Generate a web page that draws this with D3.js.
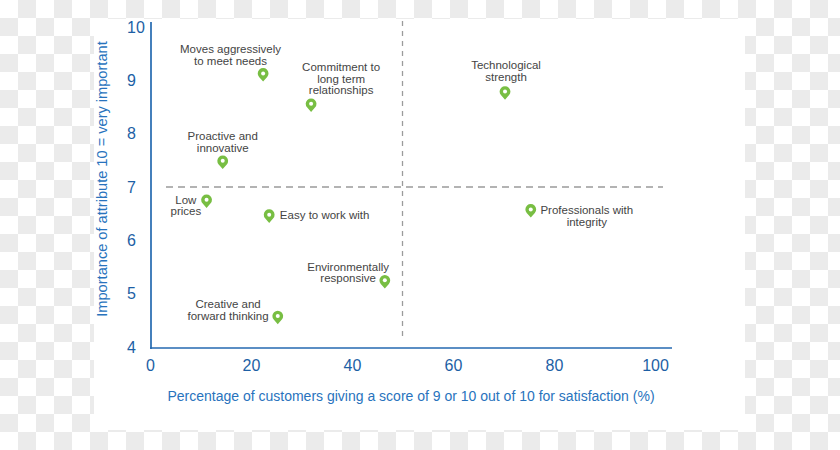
<!DOCTYPE html>
<html><head><meta charset="utf-8">
<script src="https://cdn.jsdelivr.net/npm/d3@7"></script>
<style>html,body{margin:0;padding:0;background:#fff;} svg{display:block;}</style>
</head><body>
<svg id="chart" width="840" height="450"></svg>
<script>
// ---- data ----
const categories = [
  "Moves aggressively to meet needs",
  "Commitment to long term relationships",
  "Technological strength",
  "Proactive and innovative",
  "Low prices",
  "Easy to work with",
  "Professionals with integrity",
  "Environmentally responsive",
  "Creative and forward thinking"
];
const satisfaction = [22.4, 31.9, 70.3, 14.4, 11.2, 23.6, 75.4, 46.5, 25.3];
const importance   = [9.13, 8.56, 8.79, 7.49, 6.76, 6.48, 6.58, 5.25, 4.58];
const xTicks = [0, 20, 40, 60, 80, 100];
const yTicks = [4, 5, 6, 7, 8, 9, 10];
const xDivider = 50;
const yDivider = 7;
const xTitle = "Percentage of customers giving a score of 9 or 10 out of 10 for satisfaction (%)";
const yTitle = "Importance of attribute 10 = very important";

// ---- layout (label placement relative to marker) ----
const labelLayout = [
  {lines: ["Moves aggressively", "to meet needs"], dx: -32.6, dy: -20.3, anchor: "middle"},
  {lines: ["Commitment to", "long term", "relationships"], dx: 30, dy: -33, anchor: "middle"},
  {lines: ["Technological", "strength"], dx: 1, dy: -22.7, anchor: "middle"},
  {lines: ["Proactive and", "innovative"], dx: 0, dy: -21, anchor: "middle"},
  {lines: ["Low", "prices"], dx: -20.7, dy: 4, anchor: "middle"},
  {lines: ["Easy to work with"], dx: 10.7, dy: 4.7, anchor: "start"},
  {lines: ["Professionals with", "integrity"], dx: 56, dy: 4.7, anchor: "middle"},
  {lines: ["Environmentally", "responsive"], dx: -36.7, dy: -9.8, anchor: "middle"},
  {lines: ["Creative and", "forward thinking"], dx: -49.7, dy: -7.7, anchor: "middle"}
];

const W = 840, H = 450;
const svg = d3.select("#chart");
const FONT = "'Liberation Sans', Arial, Helvetica, sans-serif";

// checkerboard background
const defs = svg.append("defs");
const pat = defs.append("pattern").attr("id", "checker")
  .attr("width", 36).attr("height", 36).attr("patternUnits", "userSpaceOnUse");
pat.append("rect").attr("width", 36).attr("height", 36).attr("fill", "#ffffff");
pat.append("rect").attr("x", 18).attr("y", 0).attr("width", 18).attr("height", 18).attr("fill", "#ebebeb");
pat.append("rect").attr("x", 0).attr("y", 18).attr("width", 18).attr("height", 18).attr("fill", "#ebebeb");
svg.append("rect").attr("width", W).attr("height", H).attr("fill", "url(#checker)");
svg.append("rect").attr("x", 94).attr("y", 19).attr("width", 651).attr("height", 411).attr("fill", "#ffffff");

// scales
const x = d3.scaleLinear().domain([0, 100]).range([150, 655]);
const y = d3.scaleLinear().domain([4, 10]).range([347, 27]);

const axisColor = "#2469b0";
const tickColor = "#1d5fa5";
const titleColor = "#2873bd";

// quadrant dividers
svg.append("line")
  .attr("x1", x.range()[0] + 16).attr("x2", x.range()[1] + 8)
  .attr("y1", y(yDivider)).attr("y2", y(yDivider))
  .attr("stroke", "#9b9b9b").attr("stroke-width", 1.3).attr("stroke-dasharray", "7,5");
svg.append("line")
  .attr("x1", x(xDivider)).attr("x2", x(xDivider))
  .attr("y1", y.range()[1] - 6).attr("y2", y.range()[0] - 10)
  .attr("stroke", "#9b9b9b").attr("stroke-width", 1.3).attr("stroke-dasharray", "5,5");

// axes
const gx = svg.append("g").attr("transform", `translate(0,${y.range()[0] + 1})`)
  .call(d3.axisBottom(x).tickValues(xTicks).tickSize(0).tickPadding(12).tickFormat(d3.format("d")));
gx.select(".domain").remove();
gx.selectAll("text").attr("fill", tickColor).style("font-family", FONT).style("font-size", "16px");

const gy = svg.append("g").attr("transform", `translate(${x.range()[0] + 1},0)`)
  .call(d3.axisLeft(y).tickValues(yTicks).tickSize(0).tickFormat(d3.format("d")));
gy.select(".domain").remove();
gy.selectAll("text").attr("fill", tickColor).attr("text-anchor", "start").attr("x", -24)
  .style("font-family", FONT).style("font-size", "16px");

// axis lines
svg.append("line").attr("x1", x.range()[0] + 1).attr("x2", x.range()[0] + 1)
  .attr("y1", y.range()[1] - 5).attr("y2", y.range()[0] + 2)
  .attr("stroke", axisColor).attr("stroke-width", 1.7);
svg.append("line").attr("x1", x.range()[0]).attr("x2", x.range()[1] + 17)
  .attr("y1", y.range()[0] + 1).attr("y2", y.range()[0] + 1)
  .attr("stroke", axisColor).attr("stroke-width", 1.7);

// axis titles
svg.append("text").attr("x", 411).attr("y", 401).attr("text-anchor", "middle")
  .attr("fill", titleColor).style("font-family", FONT).style("font-size", "14px").text(xTitle);
svg.append("text").attr("transform", "translate(107,179) rotate(-90)").attr("text-anchor", "middle")
  .attr("fill", titleColor).style("font-family", FONT).style("font-size", "14.6px").text(yTitle);

// markers
const data = categories.map((c, i) => ({name: c, sx: satisfaction[i], iy: importance[i], lay: labelLayout[i]}));
const r = 5.4, d = 8.2;
const th = Math.acos(r / d);
const tx = r * Math.sin(th), ty = r * Math.cos(th);
const pinPath = `M0,${d} L${-tx},${ty} A${r},${r} 0 1 1 ${tx},${ty} Z`;

const pts = svg.append("g").selectAll("g.pt").data(data).join("g")
  .attr("class", "pt")
  .attr("transform", dd => `translate(${x(dd.sx)},${y(dd.iy)})`);
pts.append("path").attr("d", pinPath).attr("fill", "#78be43");
pts.append("circle").attr("r", 2).attr("fill", "#ffffff");

// labels
pts.each(function(dd) {
  const g = d3.select(this);
  const t = g.append("text").attr("text-anchor", dd.lay.anchor)
    .attr("fill", "#444444").style("font-family", FONT).style("font-size", "11.5px");
  dd.lay.lines.forEach((ln, k) => {
    t.append("tspan").attr("x", dd.lay.dx).attr("y", dd.lay.dy + k * 11.7).text(ln);
  });
});
</script>
</body></html>
